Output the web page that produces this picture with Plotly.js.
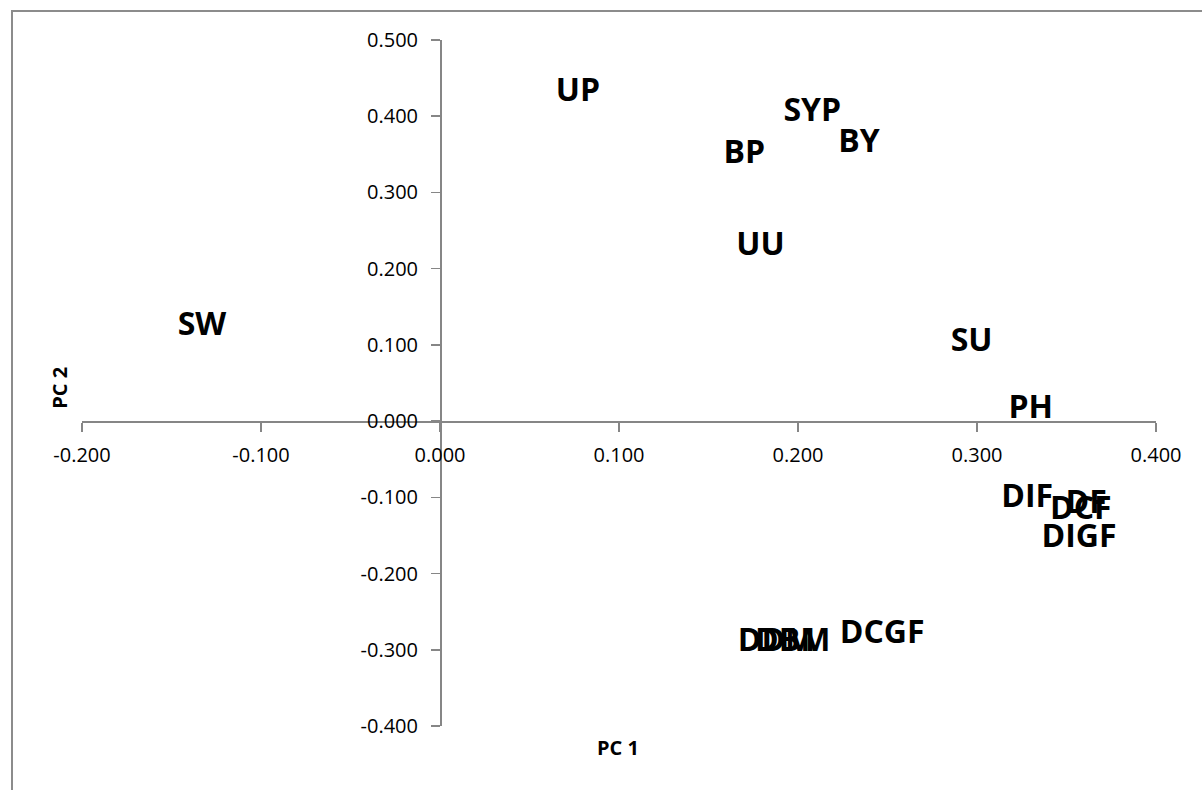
<!DOCTYPE html>
<html>
<head>
<meta charset="utf-8">
<script src="https://cdn.plot.ly/plotly-3.0.1.min.js"></script>
<style>
  html, body { margin: 0; padding: 0; background: #fff; overflow: hidden; }
  #chart { position: absolute; left: 0; top: 0; width: 1202px; height: 790px; }
  #frame { position: absolute; left: 11px; top: 10px; width: 1300px; height: 900px;
           border: 2px solid #8c8c8c; pointer-events: none; }
</style>
</head>
<body>
<div id="chart"></div>
<div id="frame"></div>
<script>
// Principal component scores (PC 1, PC 2) for each sample
const labels = ["UP", "SYP", "BY", "BP", "UU", "SW", "SU", "PH",
                "DIF", "DF", "DCF", "DIGF", "DCGF", "DDM", "DBM"];
const pc1 = [0.077, 0.208, 0.234, 0.170, 0.179, -0.133, 0.297, 0.330,
             0.328, 0.361, 0.358, 0.357, 0.247, 0.188, 0.197];
const pc2 = [0.431, 0.404, 0.364, 0.349, 0.229, 0.123, 0.103, 0.014,
             -0.102, -0.110, -0.118, -0.155, -0.281, -0.291, -0.291];

const xTicks = [-0.2, -0.1, 0.0, 0.1, 0.2, 0.3, 0.4];
const yTicks = [-0.4, -0.3, -0.2, -0.1, 0.0, 0.1, 0.2, 0.3, 0.4, 0.5];

const xRange = [-0.2, 0.4];
const yRange = [-0.4, 0.5];

// axes cross at the origin
const xAxisPos = (0 - yRange[0]) / (yRange[1] - yRange[0]);
const yAxisPos = (0 - xRange[0]) / (xRange[1] - xRange[0]);

const axisColor = "#868686";
const fontFamily = "Open Sans, Liberation Sans, sans-serif";
const tickFont = { family: fontFamily, size: 20, color: "#000" };

const trace = {
  type: "scatter",
  mode: "text",
  x: pc1,
  y: pc2,
  text: labels,
  textposition: "middle center",
  textfont: { family: fontFamily, size: 32, color: "#000", weight: 700 },
  hoverinfo: "text",
  cliponaxis: false,
  showlegend: false
};

const layout = {
  width: 1202,
  height: 790,
  margin: { l: 82, r: 46, t: 40, b: 64 },
  paper_bgcolor: "#fff",
  plot_bgcolor: "#fff",
  xaxis: {
    range: xRange,
    tickvals: xTicks,
    ticktext: xTicks.map(v => v.toFixed(3)),
    showgrid: false,
    zeroline: false,
    showline: true,
    linecolor: axisColor,
    linewidth: 1.5,
    ticks: "outside",
    ticklen: 9,
    tickwidth: 1.5,
    tickcolor: axisColor,
    tickfont: tickFont,
    ticklabelstandoff: 6,
    anchor: "free",
    position: xAxisPos
  },
  yaxis: {
    range: yRange,
    tickvals: yTicks,
    ticktext: yTicks.map(v => v.toFixed(3)),
    showgrid: false,
    zeroline: false,
    showline: true,
    linecolor: axisColor,
    linewidth: 1.5,
    ticks: "outside",
    ticklen: 9,
    tickwidth: 1.5,
    tickcolor: axisColor,
    tickfont: tickFont,
    ticklabelstandoff: 9,
    anchor: "free",
    position: yAxisPos
  },
  annotations: [
    {
      text: "PC 1", xref: "paper", yref: "paper", x: 0.499, y: -0.032,
      xanchor: "center", yanchor: "middle", showarrow: false,
      font: { family: fontFamily, size: 20, color: "#000", weight: 700 }
    },
    {
      text: "PC 2", xref: "paper", yref: "paper", x: -0.0205, y: 0.493,
      xanchor: "center", yanchor: "middle", showarrow: false, textangle: -90,
      font: { family: fontFamily, size: 20, color: "#000", weight: 700 }
    }
  ]
};

Plotly.newPlot("chart", [trace], layout, { staticPlot: true, displayModeBar: false });
</script>
</body>
</html>
